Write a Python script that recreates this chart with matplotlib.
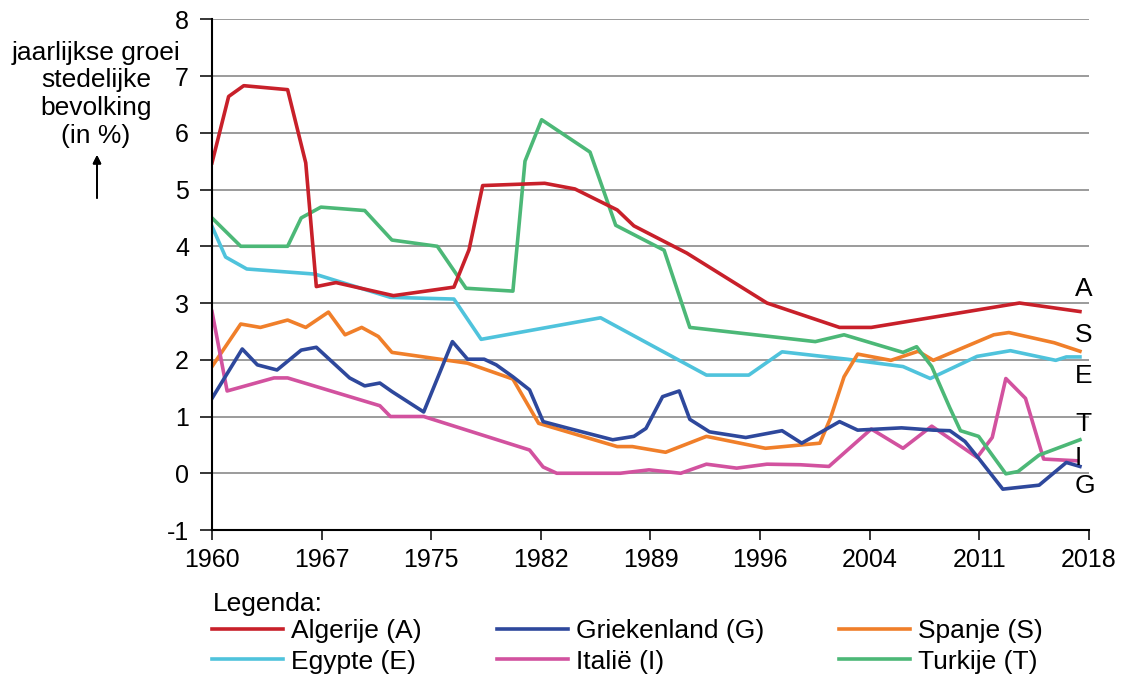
import numpy as np
import matplotlib
matplotlib.use('Agg')
import matplotlib.pyplot as plt
from matplotlib.lines import Line2D

plt.rcParams['font.family'] = ['Liberation Sans', 'DejaVu Sans']
plt.rcParams['axes.unicode_minus'] = False

# Data (year, growth %)
alg_years = [1960, 1961.1, 1962.1, 1965.0, 1966.2, 1966.9, 1968.2, 1972.0, 1976.0, 1977.0,
             1977.9, 1982.0, 1984.0, 1986.8, 1987.9, 1991.4, 1996.7, 2001.5, 2003.6, 2013.4, 2017.4]
alg_vals = [5.47, 6.64, 6.83, 6.76, 5.47, 3.29, 3.36, 3.13, 3.28, 3.94,
            5.07, 5.11, 5.01, 4.64, 4.36, 3.88, 3.0, 2.57, 2.57, 3.0, 2.85]

tur_years = [1960, 1961.9, 1965.0, 1965.9, 1967.2, 1970.1, 1971.9, 1974.9, 1976.8, 1979.9,
             1980.7, 1981.8, 1985.0, 1986.7, 1989.9, 1991.6, 1999.9, 2001.8, 2005.7, 2006.6,
             2007.6, 2008.8, 2009.5, 2010.7, 2012.5, 2013.3, 2014.7, 2017.4]
tur_vals = [4.50, 4.0, 4.0, 4.5, 4.69, 4.63, 4.11, 4.0, 3.26, 3.21,
            5.5, 6.23, 5.66, 4.37, 3.93, 2.57, 2.32, 2.44, 2.13, 2.23,
            1.88, 1.15, 0.75, 0.65, -0.01, 0.03, 0.32, 0.59]

egy_years = [1960, 1960.9, 1962.3, 1966.8, 1971.8, 1976.0, 1977.8, 1985.7, 1992.7, 1995.5,
             1997.7, 2002.0, 2005.7, 2007.5, 2010.6, 2012.8, 2015.8, 2016.5, 2017.4]
egy_vals = [4.35, 3.81, 3.60, 3.51, 3.10, 3.07, 2.36, 2.74, 1.73, 1.73,
            2.14, 2.01, 1.88, 1.67, 2.06, 2.16, 1.99, 2.05, 2.05]

spa_years = [1960, 1961.9, 1963.2, 1965.0, 1966.2, 1967.7, 1968.8, 1969.9, 1971.0, 1971.9,
             1976.9, 1979.9, 1981.6, 1986.8, 1987.8, 1990.0, 1992.7, 1996.6, 2000.2, 2000.9,
             2001.8, 2002.7, 2004.9, 2006.7, 2007.7, 2011.7, 2012.7, 2015.7, 2017.4]
spa_vals = [1.88, 2.63, 2.57, 2.70, 2.57, 2.84, 2.44, 2.57, 2.41, 2.13,
            1.94, 1.66, 0.88, 0.47, 0.47, 0.37, 0.65, 0.44, 0.53, 0.97,
            1.70, 2.10, 1.99, 2.15, 1.99, 2.44, 2.48, 2.30, 2.15]

gri_years = [1960, 1962.0, 1963.0, 1964.3, 1965.9, 1966.9, 1968.0, 1969.1, 1970.1, 1971.1,
             1971.9, 1974.0, 1975.9, 1976.9, 1978.0, 1978.8, 1979.9, 1981.0, 1981.9, 1983.6,
             1986.5, 1987.9, 1988.7, 1989.8, 1990.9, 1991.6, 1992.9, 1995.3, 1997.7, 1999.0,
             2001.5, 2002.7, 2005.6, 2007.7, 2008.8, 2009.8, 2010.8, 2012.3, 2014.7, 2016.5, 2017.4]
gri_vals = [1.32, 2.19, 1.91, 1.82, 2.17, 2.22, 1.95, 1.68, 1.54, 1.59,
            1.44, 1.08, 2.32, 2.01, 2.01, 1.91, 1.70, 1.47, 0.91, 0.79,
            0.59, 0.65, 0.79, 1.35, 1.45, 0.95, 0.73, 0.63, 0.75, 0.53,
            0.91, 0.76, 0.80, 0.76, 0.75, 0.56, 0.23, -0.28, -0.21, 0.19, 0.12]

ita_years = [1960, 1961.0, 1964.1, 1965.0, 1971.1, 1971.8, 1974.0, 1981.0, 1981.9, 1982.8,
             1987.0, 1988.9, 1991.0, 1992.7, 1994.7, 1996.7, 1998.9, 2000.8, 2003.6, 2005.7,
             2007.6, 2010.6, 2011.6, 2012.5, 2013.8, 2015.0, 2017.2]
ita_vals = [2.85, 1.45, 1.68, 1.68, 1.19, 1.0, 1.0, 0.41, 0.11, 0.0,
            0.0, 0.06, 0.0, 0.16, 0.09, 0.16, 0.15, 0.12, 0.78, 0.44,
            0.83, 0.28, 0.63, 1.67, 1.32, 0.25, 0.22]

tick_labels = ['1960', '1967', '1975', '1982', '1989', '1996', '2004', '2011', '2018']

colors = {
    'A': '#c8202a', 'G': '#2e489c', 'S': '#f07f2a',
    'E': '#4fc3dc', 'I': '#d2529f', 'T': '#4cb877',
}

W, H = 1127, 684
fig = plt.figure(figsize=(W / 100, H / 100), dpi=100)
ax = fig.add_axes([212 / W, 1 - 530 / H, 877 / W, (530 - 19.3) / H])

lw = 2.6
ax.plot(egy_years, egy_vals, color=colors['E'], lw=lw)
ax.plot(spa_years, spa_vals, color=colors['S'], lw=lw)
ax.plot(ita_years, ita_vals, color=colors['I'], lw=lw)
ax.plot(gri_years, gri_vals, color=colors['G'], lw=lw)
ax.plot(tur_years, tur_vals, color=colors['T'], lw=lw)
ax.plot(alg_years, alg_vals, color=colors['A'], lw=lw)

ax.set_xlim(1960, 2018)
ax.set_ylim(-1, 8)
ax.set_xticks(np.linspace(1960, 2018, 9))
ax.set_xticklabels(tick_labels)
ax.set_yticks(range(-1, 9))
ax.tick_params(axis='y', direction='out', length=8.6, width=1.1, pad=8, labelsize=18)
ax.tick_params(axis='x', direction='out', length=7.2, width=1.1, pad=6, labelsize=18)
ax.yaxis.grid(True, color='#8a8a8a', lw=1.2)
ax.set_axisbelow(True)
for s in ['top', 'right']:
    ax.spines[s].set_visible(False)
for s in ['left', 'bottom']:
    ax.spines[s].set_linewidth(1.5)

# end labels
trans = ax.get_yaxis_transform()
end_labels = [('A', 3.25), ('S', 2.44), ('E', 1.72), ('T', 0.87), ('I', 0.27), ('G', -0.22)]
for lab, yv in end_labels:
    ax.text(0.984, yv, lab, transform=trans, ha='left', va='center', fontsize=19, clip_on=False)

# y-axis label
ylab_lines = ['jaarlijkse groei', 'stedelijke', 'bevolking', '(in %)']
for i, t in enumerate(ylab_lines):
    fig.text(96 / W, 1 - (60 + 27.5 * i) / H, t, ha='center', va='baseline', fontsize=19)
fig.add_artist(plt.annotate('', xy=(97, H - 155), xytext=(97, H - 198),
                            xycoords='figure pixels', textcoords='figure pixels',
                            arrowprops=dict(arrowstyle='-|>', color='black', lw=1.3,
                                            mutation_scale=12, shrinkA=0, shrinkB=0)))

# legend
fig.text(213 / W, 1 - 604 / H, 'Legenda:', ha='left', va='center', fontsize=19)
handles = [Line2D([], [], color=colors[k], lw=lw) for k in ['A', 'E', 'G', 'I', 'S', 'T']]
labels = ['Algerije (A)', 'Egypte (E)', 'Griekenland (G)', 'Italië (I)', 'Spanje (S)', 'Turkije (T)']
fig.legend(handles, labels, loc='upper left', bbox_to_anchor=(212 / W, 1 - 619 / H),
           ncol=3, frameon=False, fontsize=19, borderpad=0, borderaxespad=0,
           handlelength=2.69, handletextpad=0.3, columnspacing=2.85, labelspacing=0.25)

fig.savefig('out.png', dpi=100)
